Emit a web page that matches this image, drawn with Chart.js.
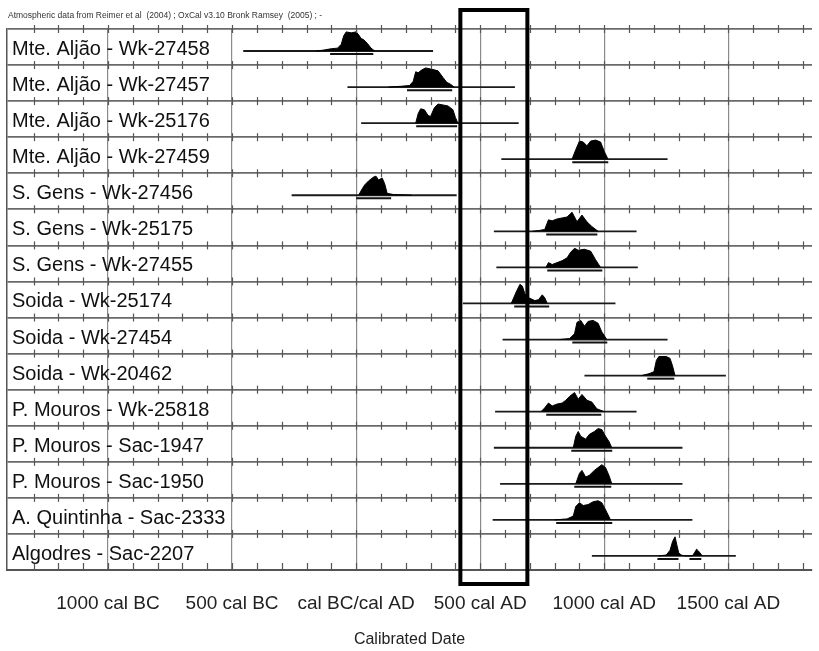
<!DOCTYPE html>
<html>
<head>
<meta charset="utf-8">
<script src="https://cdn.jsdelivr.net/npm/chart.js@4.4.1/dist/chart.umd.min.js"></script>
<style>
  html, body { margin: 0; padding: 0; background: #fff; }
  #wrap { width: 819px; height: 651px; }
</style>
</head>
<body>
<div id="wrap"><canvas id="chart" width="819" height="651"></canvas></div>
<script>
// Samples, top to bottom
const sampleLabels = [
    "Mte. Aljão - Wk-27458",
    "Mte. Aljão - Wk-27457",
    "Mte. Aljão - Wk-25176",
    "Mte. Aljão - Wk-27459",
    "S. Gens - Wk-27456",
    "S. Gens - Wk-25175",
    "S. Gens - Wk-27455",
    "Soida - Wk-25174",
    "Soida - Wk-27454",
    "Soida - Wk-20462",
    "P. Mouros - Wk-25818",
    "P. Mouros - Sac-1947",
    "P. Mouros - Sac-1950",
    "A. Quintinha - Sac-2333",
    "Algodres - Sac-2207",
];

// Plotted range of each calibrated date (years, BC negative)
const rangeFrom = [-455, -35, 20, 585, -260, 555, 565, 430, 590, 920, 560, 555, 580, 550, 950];
const rangeTo = [310, 640, 655, 1255, 405, 1130, 1135, 1045, 1255, 1490, 1130, 1315, 1315, 1355, 1530];

// Probability distributions (relative to peak)
const probYears = [
    [-160, -130, -100, -75, -60, -50, -40, -20, 0, 10, 20, 30, 45, 60, 75],
    [130, 180, 215, 230, 240, 250, 265, 280, 300, 330, 350, 365, 380, 395],
    [240, 250, 260, 275, 290, 300, 315, 330, 350, 370, 390, 400, 410],
    [870, 885, 900, 915, 930, 945, 965, 985, 1000, 1015],
    [10, 25, 35, 50, 70, 80, 90, 105, 115, 125, 150, 200, 225],
    [710, 740, 760, 775, 790, 810, 830, 850, 870, 890, 910, 930, 950, 975],
    [765, 775, 790, 810, 830, 850, 865, 880, 895, 920, 945, 965, 985],
    [625, 645, 660, 670, 680, 695, 720, 735, 750, 760, 770],
    [820, 860, 880, 890, 905, 920, 935, 955, 975, 990, 1010],
    [1150, 1180, 1200, 1210, 1220, 1250, 1265, 1275, 1285],
    [745, 760, 775, 790, 810, 830, 845, 860, 880, 895, 910, 930, 950, 970, 1000],
    [875, 885, 895, 905, 925, 940, 960, 975, 990, 1005, 1020, 1030],
    [885, 900, 910, 925, 940, 960, 975, 990, 1005, 1020, 1030],
    [800, 850, 875, 885, 900, 915, 935, 955, 975, 990, 1010, 1025],
    [1220, 1250, 1265, 1275, 1285, 1292, 1300, 1310, 1325, 1355, 1365, 1372, 1380, 1395],
];
const probValues = [
    [0, 0.05, 0.12, 0.15, 0.35, 0.8, 1.0, 0.95, 1.0, 0.85, 0.65, 0.6, 0.4, 0.15, 0],
    [0, 0.04, 0.08, 0.3, 0.8, 0.75, 0.9, 1.0, 0.95, 0.85, 0.5, 0.25, 0.15, 0],
    [0, 0.5, 0.75, 0.7, 0.4, 0.35, 0.8, 1.0, 0.95, 0.9, 0.7, 0.3, 0],
    [0, 0.5, 0.95, 0.9, 0.7, 0.95, 1.0, 0.9, 0.4, 0],
    [0, 0.35, 0.55, 0.75, 0.95, 1.0, 0.8, 0.9, 0.6, 0.1, 0.04, 0.02, 0],
    [0, 0.05, 0.1, 0.6, 0.55, 0.65, 0.7, 0.75, 1.0, 0.5, 0.85, 0.5, 0.25, 0],
    [0, 0.25, 0.15, 0.25, 0.35, 0.5, 0.8, 1.0, 0.9, 0.95, 0.85, 0.4, 0],
    [0, 0.6, 1.0, 0.9, 0.5, 0.3, 0.15, 0.2, 0.45, 0.3, 0],
    [0, 0.05, 0.3, 0.9, 1.0, 0.7, 0.95, 1.0, 0.85, 0.4, 0],
    [0, 0.1, 0.2, 0.8, 1.0, 1.0, 0.9, 0.5, 0],
    [0, 0.2, 0.45, 0.3, 0.4, 0.45, 0.6, 0.8, 1.0, 0.65, 0.9, 0.6, 0.5, 0.15, 0],
    [0, 0.6, 0.85, 0.6, 0.45, 0.7, 0.85, 1.0, 0.95, 0.6, 0.3, 0],
    [0, 0.55, 0.7, 0.35, 0.45, 0.7, 0.85, 1.0, 0.85, 0.4, 0],
    [0, 0.05, 0.2, 0.7, 0.9, 0.75, 0.8, 0.95, 1.0, 0.9, 0.4, 0],
    [0, 0.05, 0.3, 0.75, 1.0, 0.6, 0.15, 0.05, 0, 0, 0.2, 0.35, 0.25, 0],
];

// 95% ranges drawn under each distribution (row index, from, to)
const bracketRow = [0, 1, 2, 3, 4, 5, 6, 7, 8, 9, 10, 11, 12, 13, 14, 14];
const bracketFrom = [-105, 205, 242, 871, 0, 766, 770, 637, 871, 1173, 766, 867, 879, 806, 1214, 1343];
const bracketTo = [69, 387, 407, 1016, 141, 972, 992, 778, 1012, 1282, 988, 1032, 1028, 1032, 1299, 1391];

const tickYears = [-1000, -500, 0, 500, 1000, 1500];
const tickLabels = ["1000 cal BC", "500 cal BC", "cal BC/cal AD", "500 cal AD", "1000 cal AD", "1500 cal AD"];

// highlighted period (box)
const highlightFrom = 420;
const highlightTo = 690;

const headerText = "Atmospheric data from Reimer et al  (2004) ; OxCal v3.10 Bronk Ramsey  (2005) ; -";

const FONT = "'Liberation Sans', Arial, sans-serif";
const rowCount = sampleLabels.length;
const peakHeight = 0.53; // fraction of a row
const baseOffset = 0.39;
const bracketDrop = 0.085;

function rowBase(i) {
    return rowCount - 1 - i + baseOffset;
}

const datasets = [];
sampleLabels.forEach((label, i) => {
    const base = rowBase(i);
    datasets.push({
        label: label,
        data: probYears[i].map((yr, k) => ({ x: yr, y: base + probValues[i][k] * peakHeight })),
        fill: { value: base },
        backgroundColor: "#000",
        borderColor: "#000",
        borderWidth: 1,
    });
    datasets.push({
        label: label + " range",
        data: [{ x: rangeFrom[i], y: base }, { x: rangeTo[i], y: base }],
        fill: false,
        borderColor: "#1a1a1a",
        borderWidth: 1.8,
    });
});
bracketRow.forEach((row, k) => {
    const yb = rowBase(row) - bracketDrop;
    datasets.push({
        label: "95% " + k,
        data: [{ x: bracketFrom[k], y: yb }, { x: bracketTo[k], y: yb }],
        fill: false,
        borderColor: "#111",
        borderWidth: 2,
    });
});

// Minor ticks, sample names, header and highlight box
const overlayPlugin = {
    id: "overlay",
    afterDatasetsDraw(chart) {
        const { ctx, scales: { x, y } } = chart;
        ctx.save();

        ctx.strokeStyle = "#555";
        ctx.lineWidth = 1.2;
        for (let r = 0; r <= rowCount; r++) {
            const py = y.getPixelForValue(r);
            for (let yr = -1300; yr <= 1800; yr += 100) {
                const px = Math.round(x.getPixelForValue(yr)) + 0.5;
                ctx.beginPath();
                if (r === 0) {
                    ctx.moveTo(px, py - 7);
                    ctx.lineTo(px, py);
                } else {
                    ctx.moveTo(px, py - 4);
                    ctx.lineTo(px, py + 4);
                }
                ctx.stroke();
            }
        }

        ctx.fillStyle = "#111";
        ctx.font = "20px " + FONT;
        ctx.textBaseline = "alphabetic";
        ctx.textAlign = "left";
        sampleLabels.forEach((label, i) => {
            const top = y.getPixelForValue(rowCount - i);
            ctx.fillText(label, 12, top + 26);
        });

        ctx.fillStyle = "#333";
        ctx.font = "8.5px " + FONT;
        ctx.fillText(headerText, 8, 18);

        const x1 = x.getPixelForValue(highlightFrom);
        const x2 = x.getPixelForValue(highlightTo);
        ctx.strokeStyle = "#000";
        ctx.lineWidth = 4;
        ctx.strokeRect(x1, 10, x2 - x1, 574);

        ctx.restore();
    },
};

new Chart(document.getElementById("chart"), {
    type: "line",
    data: { datasets },
    options: {
        responsive: false,
        animation: false,
        events: [],
        layout: { padding: { left: 7, right: 7, top: 29, bottom: 0 } },
        elements: {
            point: { radius: 0 },
            line: { tension: 0 },
        },
        plugins: {
            legend: { display: false },
            tooltip: { enabled: false },
        },
        scales: {
            x: {
                type: "linear",
                min: -1407,
                max: 1837,
                afterBuildTicks: (scale) => {
                    scale.ticks = tickYears.map((v) => ({ value: v }));
                },
                afterFit: (scale) => {
                    scale.height = 81;
                },
                ticks: {
                    autoSkip: false,
                    maxRotation: 0,
                    padding: 22,
                    color: "#222",
                    font: { family: FONT, size: 19 },
                    callback: (value) => tickLabels[tickYears.indexOf(value)],
                },
                grid: { color: "#8a8a8a", lineWidth: 1.2, drawTicks: false },
                border: { display: true, color: "#555", width: 2 },
                title: {
                    display: true,
                    text: "Calibrated Date",
                    color: "#222",
                    font: { family: FONT, size: 16 },
                    padding: { top: 0, bottom: 2 },
                },
            },
            y: {
                type: "linear",
                min: 0,
                max: rowCount,
                afterFit: (scale) => {
                    scale.width = 0;
                },
                ticks: { display: false, stepSize: 1 },
                grid: { color: "#6a6a6a", lineWidth: 1.8, drawTicks: false },
                border: { display: true, color: "#555", width: 1.5 },
            },
        },
    },
    plugins: [overlayPlugin],
});
</script>
</body>
</html>
